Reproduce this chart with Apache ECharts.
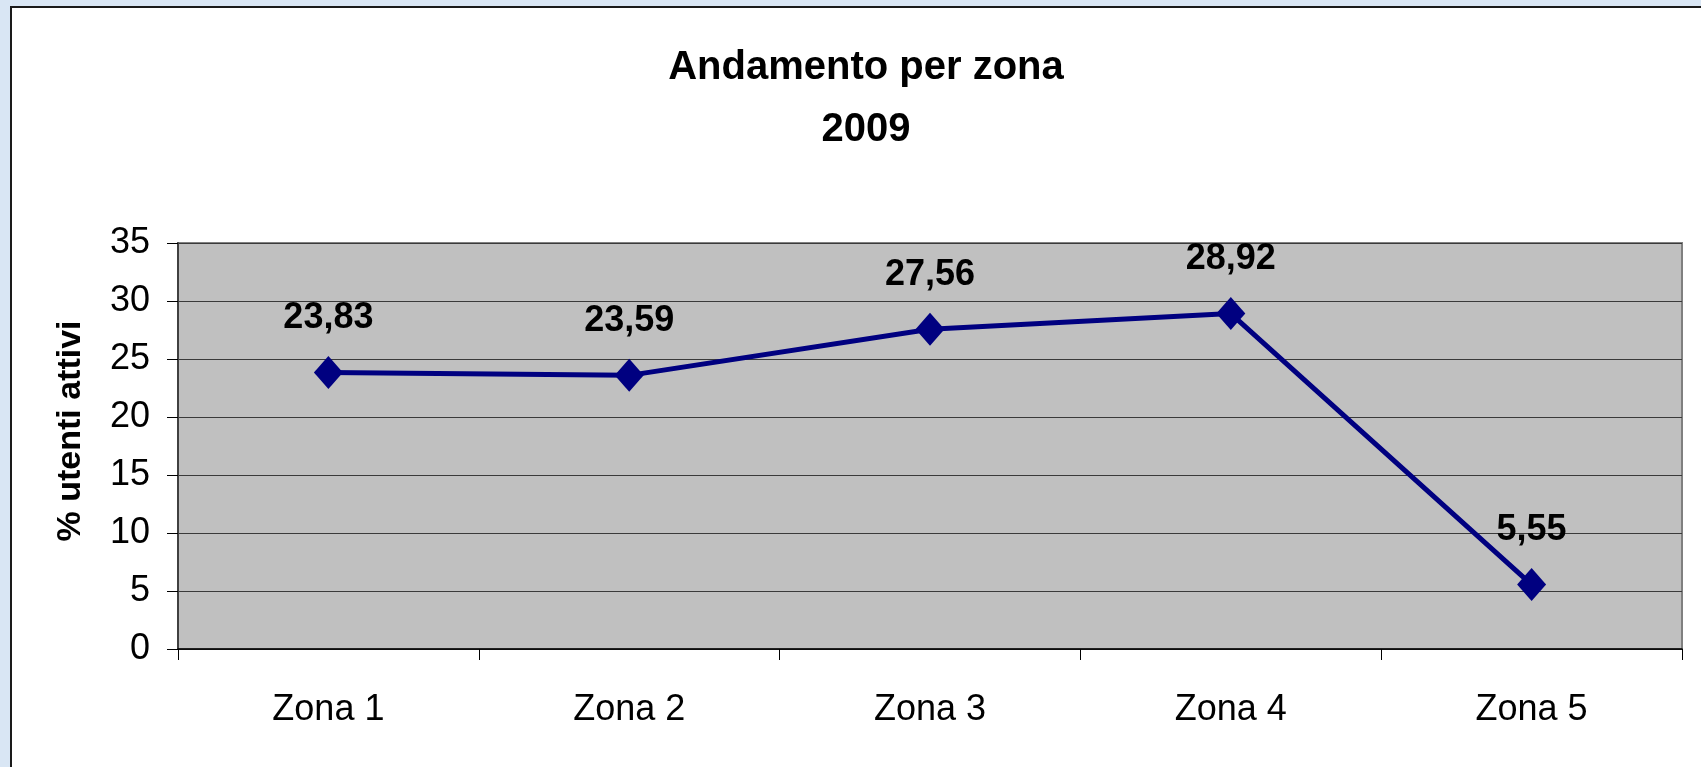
<!DOCTYPE html>
<html>
<head>
<meta charset="utf-8">
<title>Andamento per zona 2009</title>
<script src="https://cdn.jsdelivr.net/npm/echarts@6/dist/echarts.min.js"></script>
<style>
  html, body { margin: 0; padding: 0; background: #d9e6f4; }
  #chart { width: 1701px; height: 767px; }
</style>
</head>
<body>
<div id="chart"></div>
<script>
// Zones and share of active users per zone (%)
const categories = ['Zona 1', 'Zona 2', 'Zona 3', 'Zona 4', 'Zona 5'];
const values = [23.83, 23.59, 27.56, 28.92, 5.55];
const yTicks = [0, 5, 10, 15, 20, 25, 30, 35];

const FONT = 'Arial, "Liberation Sans", sans-serif';
const fmt = v => Number(v).toFixed(2).replace('.', ',');

const chart = echarts.init(document.getElementById('chart'), null, { renderer: 'canvas' });

chart.setOption({
  backgroundColor: '#d9e6f4',
  animation: false,
  graphic: [
    {
      // white chart panel with dark frame
      type: 'rect',
      z: -10,
      shape: { x: 11, y: 7, width: 1720, height: 800 },
      style: { fill: '#ffffff', stroke: '#1a1a1a', lineWidth: 2 }
    },
    {
      // vertical axis title
      type: 'text',
      x: 71,
      y: 431,
      rotation: Math.PI / 2,
      style: {
        text: '% utenti attivi',
        font: 'bold 34px ' + FONT,
        fill: '#000',
        textAlign: 'center',
        textVerticalAlign: 'middle'
      }
    }
  ],
  title: {
    text: 'Andamento per zona\n2009',
    left: 861,
    top: 32,
    textAlign: 'center',
    textStyle: {
      fontFamily: FONT,
      fontWeight: 'bold',
      fontSize: 40,
      lineHeight: 62,
      color: '#000'
    }
  },
  grid: {
    left: 178,
    top: 243,
    right: 19,
    bottom: 118,
    show: true,
    backgroundColor: '#c0c0c0',
    borderColor: '#808080',
    borderWidth: 2
  },
  xAxis: {
    type: 'category',
    data: categories,
    boundaryGap: true,
    axisLine: { show: true, lineStyle: { color: '#000', width: 1.5 } },
    axisTick: { show: true, length: 11, alignWithLabel: false, lineStyle: { color: '#000', width: 1 } },
    axisLabel: { color: '#000', fontFamily: FONT, fontSize: 36, margin: 43 },
    splitLine: { show: false }
  },
  yAxis: {
    type: 'value',
    min: 0,
    max: 35,
    interval: 5,
    axisLine: { show: true, lineStyle: { color: '#404040', width: 2 } },
    axisTick: { show: true, length: 11, lineStyle: { color: '#000', width: 1 } },
    axisLabel: {
      color: '#000',
      fontFamily: FONT,
      fontSize: 36,
      margin: 28,
      formatter: v => (yTicks.indexOf(v) >= 0 ? String(v) : '')
    },
    splitLine: { show: true, lineStyle: { color: '#3a3a3a', width: 1 } }
  },
  series: [
    {
      type: 'line',
      data: values,
      symbol: 'diamond',
      symbolSize: [29, 33],
      lineStyle: { color: '#000080', width: 5 },
      itemStyle: { color: '#000080' },
      label: {
        show: true,
        position: 'top',
        distance: 20,
        color: '#000',
        fontFamily: FONT,
        fontWeight: 'bold',
        fontSize: 36,
        formatter: p => fmt(p.value)
      }
    }
  ]
});
</script>
</body>
</html>
